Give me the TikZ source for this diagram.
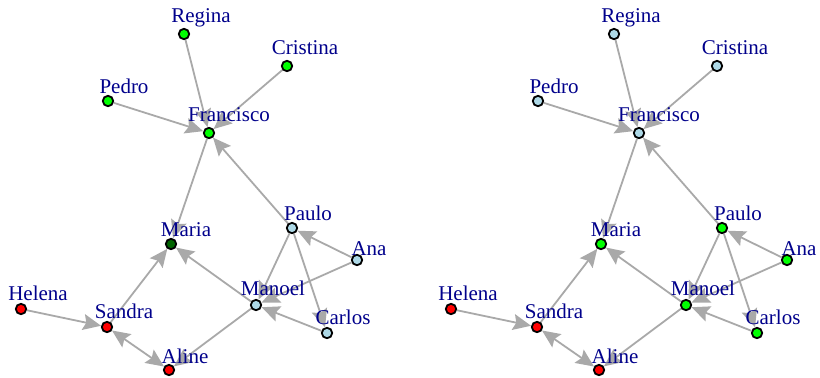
\documentclass[tikz,border=0pt]{standalone}
\usepackage{fontspec}
\setmainfont{Liberation Serif}
\usetikzlibrary{arrows.meta,backgrounds}
\definecolor{gris}{HTML}{A9A9A9}
\definecolor{bleufonce}{HTML}{00008B}
\definecolor{vert}{HTML}{00FF00}
\definecolor{vertfonce}{HTML}{006400}
\definecolor{bleuclair}{HTML}{ADD8E6}
\definecolor{rouge}{HTML}{FF0000}

\begin{document}
\begin{tikzpicture}[x=0.5pt,y=-0.5pt, >={Stealth[length=9pt,width=8pt,inset=1.5pt]}]
\tikzset{sommet/.style={draw, circle, line width=0.9pt, inner sep=0pt, minimum size=5.2pt},
  etiq/.style={text=bleufonce, font=\fontsize{10.5}{12}\selectfont, inner sep=0pt, anchor=base},
  arete/.style={draw=gris, line width=0.9pt, ->}}
\useasboundingbox (0,0) rectangle (820,377);
% graphe de gauche
\node[sommet, fill=vert] (Regina1) at (184,34) {};
\node[sommet, fill=vert] (Cristina1) at (287,66) {};
\node[sommet, fill=vert] (Pedro1) at (108,101) {};
\node[sommet, fill=vert] (Francisco1) at (209,133) {};
\node[sommet, fill=vertfonce] (Maria1) at (171,244) {};
\node[sommet, fill=bleuclair] (Paulo1) at (292,228) {};
\node[sommet, fill=bleuclair] (Ana1) at (357,260) {};
\node[sommet, fill=bleuclair] (Manoel1) at (256,305) {};
\node[sommet, fill=bleuclair] (Carlos1) at (327,333) {};
\node[sommet, fill=rouge] (Helena1) at (21,309) {};
\node[sommet, fill=rouge] (Sandra1) at (107,327) {};
\node[sommet, fill=rouge] (Aline1) at (169,370) {};
\node[etiq] (tRegina1) at ([shift={(17,-12)}]Regina1) {Regina};
\node[etiq] (tCristina1) at ([shift={(18,-12)}]Cristina1) {Cristina};
\node[etiq] (tPedro1) at ([shift={(16,-8)}]Pedro1) {Pedro};
\node[etiq] (tFrancisco1) at ([shift={(20,-12)}]Francisco1) {Francisco};
\node[etiq] (tMaria1) at ([shift={(15,-8)}]Maria1) {Maria};
\node[etiq] (tPaulo1) at ([shift={(16,-8)}]Paulo1) {Paulo};
\node[etiq] (tAna1) at ([shift={(12,-5)}]Ana1) {Ana};
\node[etiq] (tManoel1) at ([shift={(17,-10)}]Manoel1) {Manoel};
\node[etiq] (tCarlos1) at ([shift={(16,-9)}]Carlos1) {Carlos};
\node[etiq] (tHelena1) at ([shift={(17,-9)}]Helena1) {Helena};
\node[etiq] (tSandra1) at ([shift={(17,-9)}]Sandra1) {Sandra};
\node[etiq] (tAline1) at ([shift={(16,-7)}]Aline1) {Aline};
% graphe de droite
\begin{scope}[shift={(430,0)}]
\node[sommet, fill=bleuclair] (Regina2) at (184,34) {};
\node[sommet, fill=bleuclair] (Cristina2) at (287,66) {};
\node[sommet, fill=bleuclair] (Pedro2) at (108,101) {};
\node[sommet, fill=bleuclair] (Francisco2) at (209,133) {};
\node[sommet, fill=vert] (Maria2) at (171,244) {};
\node[sommet, fill=vert] (Paulo2) at (292,228) {};
\node[sommet, fill=vert] (Ana2) at (357,260) {};
\node[sommet, fill=vert] (Manoel2) at (256,305) {};
\node[sommet, fill=vert] (Carlos2) at (327,333) {};
\node[sommet, fill=rouge] (Helena2) at (21,309) {};
\node[sommet, fill=rouge] (Sandra2) at (107,327) {};
\node[sommet, fill=rouge] (Aline2) at (169,370) {};
\node[etiq] (tRegina2) at ([shift={(17,-12)}]Regina2) {Regina};
\node[etiq] (tCristina2) at ([shift={(18,-12)}]Cristina2) {Cristina};
\node[etiq] (tPedro2) at ([shift={(16,-8)}]Pedro2) {Pedro};
\node[etiq] (tFrancisco2) at ([shift={(20,-12)}]Francisco2) {Francisco};
\node[etiq] (tMaria2) at ([shift={(15,-8)}]Maria2) {Maria};
\node[etiq] (tPaulo2) at ([shift={(16,-8)}]Paulo2) {Paulo};
\node[etiq] (tAna2) at ([shift={(12,-5)}]Ana2) {Ana};
\node[etiq] (tManoel2) at ([shift={(17,-10)}]Manoel2) {Manoel};
\node[etiq] (tCarlos2) at ([shift={(16,-9)}]Carlos2) {Carlos};
\node[etiq] (tHelena2) at ([shift={(17,-9)}]Helena2) {Helena};
\node[etiq] (tSandra2) at ([shift={(17,-9)}]Sandra2) {Sandra};
\node[etiq] (tAline2) at ([shift={(16,-7)}]Aline2) {Aline};
\end{scope}
% aretes
\begin{scope}[on background layer]
\draw[arete] (Regina1) -- (Francisco1);
\draw[arete] (Cristina1) -- (Francisco1);
\draw[arete] (Pedro1) -- (Francisco1);
\draw[arete] (Paulo1) -- (Francisco1);
\draw[arete] (Francisco1) -- (Maria1);
\draw[arete] (Sandra1) -- (Maria1);
\draw[arete] (Manoel1) -- (Maria1);
\draw[arete] (Helena1) -- (Sandra1);
\draw[arete, <->] (Sandra1) -- (Aline1);
\draw[arete] (Manoel1) -- (Aline1);
\draw[arete] (Ana1) -- (Paulo1);
\draw[arete] (Paulo1) -- (Carlos1);
\draw[arete] (Paulo1) -- (Manoel1);
\draw[arete] (Ana1) -- (Manoel1);
\draw[arete] (Carlos1) -- (Manoel1);
\draw[arete] (Regina2) -- (Francisco2);
\draw[arete] (Cristina2) -- (Francisco2);
\draw[arete] (Pedro2) -- (Francisco2);
\draw[arete] (Paulo2) -- (Francisco2);
\draw[arete] (Francisco2) -- (Maria2);
\draw[arete] (Sandra2) -- (Maria2);
\draw[arete] (Manoel2) -- (Maria2);
\draw[arete] (Helena2) -- (Sandra2);
\draw[arete, <->] (Sandra2) -- (Aline2);
\draw[arete] (Manoel2) -- (Aline2);
\draw[arete] (Ana2) -- (Paulo2);
\draw[arete] (Paulo2) -- (Carlos2);
\draw[arete] (Paulo2) -- (Manoel2);
\draw[arete] (Ana2) -- (Manoel2);
\draw[arete] (Carlos2) -- (Manoel2);
\end{scope}
\end{tikzpicture}
\end{document}
